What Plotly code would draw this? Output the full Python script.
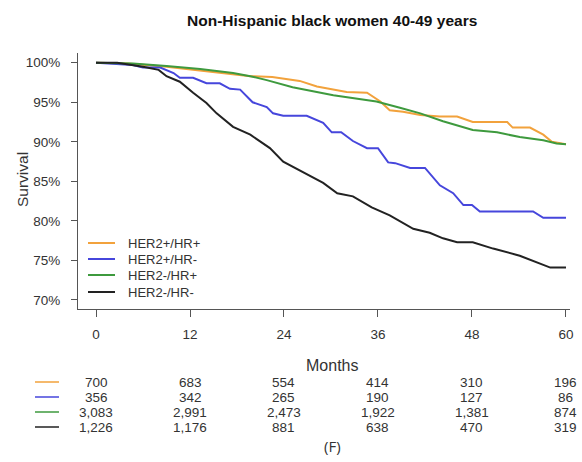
import plotly.graph_objects as go

# ---- data ----
months_her2p_hrp = [0, 4, 9, 13.3, 17.5, 19.7, 22.5, 23.9, 26, 28.2, 30.3, 32, 34.6, 36.3, 37.5, 39.2,
                    41.4, 43.9, 46.1, 48.1, 52.5, 53.2, 55.4, 57.1, 58.2, 59.6, 60]
surv_her2p_hrp = [100, 99.9, 99.5, 99.0, 98.6, 98.3, 98.2, 98.0, 97.7, 97.0, 96.6, 96.3, 96.2, 95.1, 94.0, 93.8,
                  93.4, 93.2, 93.2, 92.5, 92.5, 91.8, 91.8, 90.9, 90.0, 89.7, 89.7]

months_her2p_hrn = [0, 4.7, 6, 8.2, 9.9, 10.7, 12.4, 14.1, 15.8, 17.1, 18.4, 20, 21.8, 22.6, 23.9, 26.9, 29,
                    30.1, 31.3, 32.8, 34.6, 36, 37.3, 38.2, 40.1, 42, 43.9, 45.6, 46.9, 48, 49, 55.8, 57.1, 60]
surv_her2p_hrn = [100, 99.7, 99.4, 99.4, 98.7, 98.1, 98.1, 97.4, 97.4, 96.7, 96.6, 95.0, 94.4, 93.6, 93.3, 93.3,
                  92.4, 91.2, 91.2, 90.1, 89.2, 89.2, 87.4, 87.3, 86.7, 86.7, 84.5, 83.5, 82.0, 82.0, 81.2, 81.2,
                  80.4, 80.4]

months_her2n_hrp = [0, 4.7, 9, 13.3, 17.5, 19.7, 21.8, 25.1, 30.3, 35.8, 38.8, 41.4, 44.3, 48.1, 51.2, 54.1,
                    57.1, 58.8, 60]
surv_her2n_hrp = [100, 99.9, 99.6, 99.2, 98.7, 98.3, 97.8, 96.9, 95.9, 95.1, 94.3, 93.6, 92.6, 91.5, 91.2, 90.6,
                  90.2, 89.8, 89.7]

months_her2n_hrn = [0, 2.7, 6, 8, 9, 10.7, 12.4, 14.1, 15.4, 17.5, 19.7, 22.2, 23.9, 26, 29, 30.8, 32.8, 35.2,
                    37.5, 40.5, 42.6, 44.3, 46.1, 48.1, 50.7, 54.1, 58, 60]
surv_her2n_hrn = [100, 100, 99.5, 99.1, 98.3, 97.6, 96.2, 94.9, 93.6, 91.9, 90.9, 89.2, 87.5, 86.4, 84.8, 83.5,
                  83.1, 81.7, 80.7, 79.0, 78.5, 77.8, 77.3, 77.3, 76.5, 75.6, 74.1, 74.1]

series_names = ["HER2+/HR+", "HER2+/HR-", "HER2-/HR+", "HER2-/HR-"]
series_colors = ["#F2A23C", "#4646DC", "#3E9A3E", "#222222"]

risk_months = [0, 12, 24, 36, 48, 60]
risk_her2p_hrp = [700, 683, 554, 414, 310, 196]
risk_her2p_hrn = [356, 342, 265, 190, 127, 86]
risk_her2n_hrp = [3083, 2991, 2473, 1922, 1381, 874]
risk_her2n_hrn = [1226, 1176, 881, 638, 470, 319]

y_ticks = [70, 75, 80, 85, 90, 95, 100]
y_tick_labels = [f"{v}%" for v in y_ticks]

# ---- figure ----
FONT = "Liberation Sans, Arial, Helvetica, sans-serif"
TXT = "#333333"

curves = [
    (months_her2p_hrp, surv_her2p_hrp),
    (months_her2p_hrn, surv_her2p_hrn),
    (months_her2n_hrp, surv_her2n_hrp),
    (months_her2n_hrn, surv_her2n_hrn),
]
risks = [risk_her2p_hrp, risk_her2p_hrn, risk_her2n_hrp, risk_her2n_hrn]

fig = go.Figure()
for (mx, sy), name, col in zip(curves, series_names, series_colors):
    fig.add_trace(go.Scatter(x=mx, y=sy, mode="lines", name=name,
                             line=dict(color=col, width=2), showlegend=False))

W, H = 582, 462
L, R, T, B = 78, 12, 53, 153
pw, ph = W - L - R, H - T - B


def px_x(p):
    return (p - L) / pw


def px_y(p):
    return (H - B - p) / ph


annotations = []
shapes = []

# title
annotations.append(dict(text="<b>Non-Hispanic black women 40-49 years</b>", xref="paper", yref="paper",
                        x=px_x(332), y=px_y(20), showarrow=False, xanchor="center", yanchor="middle",
                        font=dict(family=FONT, size=15.5, color="#111111")))
# y axis title
annotations.append(dict(text="Survival", xref="paper", yref="paper", x=px_x(22), y=px_y(180),
                        showarrow=False, textangle=-90, xanchor="center", yanchor="middle",
                        font=dict(family=FONT, size=15.5, color=TXT)))
# Months label
annotations.append(dict(text="Months", xref="paper", yref="paper", x=px_x(332), y=px_y(365),
                        showarrow=False, xanchor="center", yanchor="middle",
                        font=dict(family=FONT, size=16, color=TXT)))
# (F)
annotations.append(dict(text="(F)", xref="paper", yref="paper", x=px_x(332), y=px_y(446),
                        showarrow=False, xanchor="center", yanchor="middle",
                        font=dict(family="Open Sans, DejaVu Sans, sans-serif", size=15, color=TXT)))

# legend inside plot
leg_rows = [243, 259, 275, 292]
for name, col, ry in zip(series_names, series_colors, leg_rows):
    shapes.append(dict(type="line", xref="paper", yref="paper", x0=px_x(88), x1=px_x(115),
                       y0=px_y(ry), y1=px_y(ry), line=dict(color=col, width=2)))
    annotations.append(dict(text=name, xref="paper", yref="paper", x=px_x(126), y=px_y(ry),
                            showarrow=False, xanchor="left", yanchor="middle",
                            font=dict(family=FONT, size=13, color=TXT)))

# risk table
risk_rows = [382, 397, 412, 427]
for vals, col, ry in zip(risks, series_colors, risk_rows):
    shapes.append(dict(type="line", xref="paper", yref="paper", x0=px_x(35), x1=px_x(59),
                       y0=px_y(ry), y1=px_y(ry), line=dict(color=col, width=2), opacity=0.75))
    for m, v in zip(risk_months, vals):
        annotations.append(dict(text=f"{v:,}", xref="x", yref="paper", x=m, y=px_y(ry),
                                showarrow=False, xanchor="center", yanchor="middle",
                                font=dict(family=FONT, size=13.5, color=TXT)))

x0 = (L - 96) / 7.833
x1 = (W - R - 96) / 7.833

fig.update_layout(
    width=W, height=H,
    margin=dict(l=L, r=R, t=T, b=B, pad=0, autoexpand=False),
    paper_bgcolor="white", plot_bgcolor="white",
    annotations=annotations, shapes=shapes,
    showlegend=False,
)
fig.update_xaxes(range=[x0, x1], tickvals=risk_months, ticks="outside", ticklen=7, tickcolor="#555555",
                 showline=True, linecolor="#555555", linewidth=1, showgrid=False, zeroline=False,
                 ticklabelstandoff=6, automargin=False,
                 tickfont=dict(family=FONT, size=13.5, color=TXT))
fig.update_yaxes(range=[68.86, 101.23], tickvals=y_ticks, ticktext=y_tick_labels, ticks="outside", ticklen=6,
                 tickcolor="#555555", showline=True, linecolor="#555555", linewidth=1, showgrid=False,
                 zeroline=False, ticklabelstandoff=8, automargin=False,
                 tickfont=dict(family=FONT, size=13.5, color=TXT))

fig.write_html("out.html", config={"displayModeBar": False},
               post_script="document.body.style.margin='0';document.body.style.overflow='hidden';")
